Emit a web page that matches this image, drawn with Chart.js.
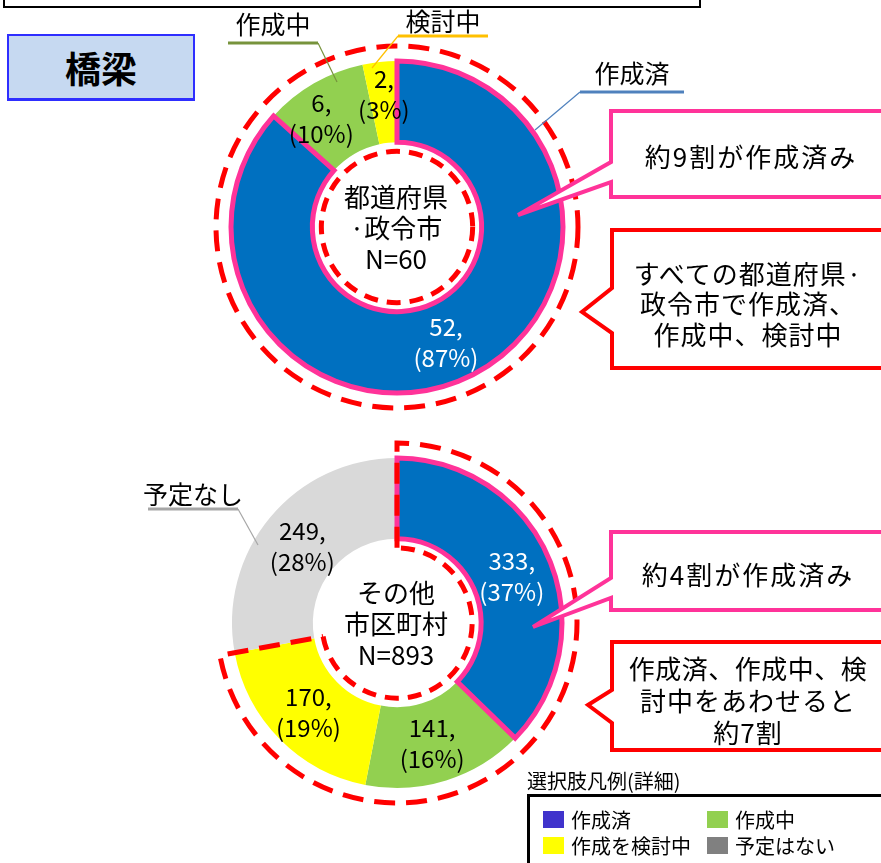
<!DOCTYPE html>
<html>
<head>
<meta charset="utf-8">
<script src="https://cdn.jsdelivr.net/npm/chart.js@4.4.1/dist/chart.umd.min.js"></script>
<style>
  body { margin: 0; background: #fff; font-family: "Noto Sans CJK JP", sans-serif; }
  #page { position: relative; width: 881px; height: 863px; overflow: hidden; }
  canvas { position: absolute; left: 0; top: 0; }
  .topbox { position: absolute; left: 3px; top: -40px; width: 694px; height: 44px; border: 2px solid #000; }
  .title { position: absolute; left: 7px; top: 34px; width: 184px; height: 62px; background: #C6D9F1;
           border: 2px solid #2E2EFF; border-bottom-width: 3px; font-size: 36px; font-weight: bold;
           display: flex; align-items: center; justify-content: center; }
  .legend-title { position: absolute; left: 527px; top: 769px; font-size: 20px; line-height: 24px; }
  .legend { position: absolute; left: 527px; top: 794px; width: 400px; height: 100px; border: 3px solid #000; }
  .item { position: absolute; font-size: 20px; line-height: 24px; }
  .item i { position: absolute; left: -28px; top: 3px; width: 21px; height: 17px; }
  svg { position: absolute; left: 0; top: 0; }
</style>
</head>
<body>
<div id="page">
  <div class="topbox"></div>
  <div class="title">橋梁</div>
  <canvas id="chartPref" width="881" height="863"></canvas>
  <canvas id="chartMuni" width="881" height="863"></canvas>

  <svg width="881" height="863">
    <g font-family="Noto Sans CJK JP" font-size="26" letter-spacing="1" text-anchor="middle" dominant-baseline="central" fill="#000">
      <path d="M611,111 H895 V197 H611 V182 L518,215 L611,162 Z" fill="#fff" stroke="#FF3399" stroke-width="4"/>
      <text x="751" y="155" letter-spacing="2">約9割が作成済み</text>

      <path d="M612,230 H895 V368 H612 V333 L582,312 L612,288 Z" fill="#fff" stroke="#FF0000" stroke-width="4"/>
      <text x="748" y="272">すべての都道府県·</text>
      <text x="748" y="302">政令市で作成済、</text>
      <text x="748" y="333">作成中、検討中</text>

      <path d="M611,532 H895 V610 H611 V598 L533,627 L611,578 Z" fill="#fff" stroke="#FF3399" stroke-width="4"/>
      <text x="748" y="573" letter-spacing="2">約4割が作成済み</text>

      <path d="M612,642 H895 V750 H612 V723 L588,705 L612,690 Z" fill="#fff" stroke="#FF0000" stroke-width="4"/>
      <text x="748" y="667" letter-spacing="0.5">作成済、作成中、検</text>
      <text x="748" y="699">討中をあわせると</text>
      <text x="748" y="731">約7割</text>
    </g>
  </svg>

  <div class="legend-title">選択肢凡例(詳細)</div>
  <div class="legend">
    <div class="item" style="left:41px;top:11px"><i style="background:#4033CC"></i>作成済</div>
    <div class="item" style="left:205px;top:11px"><i style="background:#92D050"></i>作成中</div>
    <div class="item" style="left:41px;top:37px"><i style="background:#FFFF00"></i>作成を検討中</div>
    <div class="item" style="left:205px;top:37px"><i style="background:#808080"></i>予定はない</div>
  </div>
</div>

<script>
// 都道府県・政令市
const prefLabels = ['作成済', '作成中', '検討中'];
const prefValues = [52, 6, 2];
const prefColors = ['#0070C0', '#92D050', '#FFFF00'];
const prefCenter = ['都道府県', '·政令市'];

// その他市区町村
const muniLabels = ['作成済', '作成中', '検討中', '予定なし'];
const muniValues = [333, 141, 170, 249];
const muniColors = ['#0070C0', '#92D050', '#FFFF00', '#D9D9D9'];
const muniCenter = ['その他', '市区町村'];

const FONT = '"Noto Sans CJK JP", sans-serif';

// リング装飾（ピンク枠・赤破線・ラベル）
const decorPlugin = {
    id: 'decor',
    afterDatasetsDraw(chart, args, opts) {
        const ctx = chart.ctx;
        const meta = chart.getDatasetMeta(0);
        const arcs = meta.data;
        const values = chart.data.datasets[0].data;
        const total = values.reduce((a, b) => a + b, 0);
        const first = arcs[0];
        const cx = first.x, cy = first.y;
        const rOut = first.outerRadius, rIn = first.innerRadius;

        ctx.save();

        // 作成済をピンクで囲む
        ctx.beginPath();
        ctx.arc(cx, cy, rOut, first.startAngle, first.endAngle);
        ctx.arc(cx, cy, rIn, first.endAngle, first.startAngle, true);
        ctx.closePath();
        ctx.lineWidth = 5;
        ctx.strokeStyle = '#FF3399';
        ctx.stroke();

        // 赤い破線
        const dOut = rOut + 15, dIn = rIn - 9;
        ctx.strokeStyle = '#FF0000';
        ctx.lineWidth = 5;
        if (opts.dashTo == null) {
            ctx.setLineDash([21, 11]);
            ctx.beginPath();
            ctx.arc(cx, cy, dOut, 0, Math.PI * 2);
            ctx.stroke();
            ctx.setLineDash([14, 9]);
            ctx.beginPath();
            ctx.arc(cx, cy, dIn, 0, Math.PI * 2);
            ctx.stroke();
        } else {
            const a0 = first.startAngle;
            const a1 = arcs[opts.dashTo].endAngle;
            ctx.setLineDash([21, 11]);
            ctx.beginPath();
            ctx.moveTo(cx + dIn * Math.cos(a0), cy + dIn * Math.sin(a0));
            ctx.arc(cx, cy, dOut, a0, a1);
            ctx.lineTo(cx + dIn * Math.cos(a1), cy + dIn * Math.sin(a1));
            ctx.stroke();
            ctx.setLineDash([14, 9]);
            ctx.beginPath();
            ctx.arc(cx, cy, dIn, a1, a0, true);
            ctx.stroke();
        }
        ctx.setLineDash([]);

        // 値ラベル
        ctx.textAlign = 'center';
        ctx.textBaseline = 'middle';
        ctx.font = '24px ' + FONT;
        arcs.forEach((arc, i) => {
            const p = arc.tooltipPosition(true);
            const off = (opts.labelShift && opts.labelShift[i]) || [0, 0];
            const pct = Math.round(values[i] / total * 100);
            ctx.fillStyle = i === 0 ? '#FFFFFF' : '#000000';
            ctx.fillText(values[i] + ',', p.x + off[0], p.y + off[1] - 15);
            ctx.fillText('(' + pct + '%)', p.x + off[0], p.y + off[1] + 16);
        });

        // 中央テキスト
        ctx.fillStyle = '#000';
        ctx.font = '26px ' + FONT;
        const lines = opts.center.concat(['N=' + total]);
        lines.forEach((t, k) => ctx.fillText(t, cx - 1, cy + 1 + (k - 1) * 31));

        // 引き出し線ラベル
        (opts.callouts || []).forEach(c => {
            ctx.strokeStyle = c.color;
            ctx.lineWidth = 3;
            ctx.beginPath();
            ctx.moveTo(c.x1, c.y);
            ctx.lineTo(c.x2, c.y);
            ctx.stroke();
            ctx.lineWidth = 1.2;
            ctx.beginPath();
            ctx.moveTo(c.lx, c.y);
            ctx.lineTo(c.ex, c.ey);
            ctx.stroke();
            ctx.fillStyle = '#000';
            ctx.font = '25px ' + FONT;
            ctx.fillText(chart.data.labels[c.index], (c.x1 + c.x2) / 2, c.ty);
        });

        ctx.restore();
    }
};

function makeDonut(id, labels, values, colors, padding, decor) {
    return new Chart(document.getElementById(id), {
        type: 'doughnut',
        data: {
            labels: labels,
            datasets: [{
                data: values,
                backgroundColor: colors,
                borderWidth: 0
            }]
        },
        options: {
            responsive: false,
            animation: false,
            cutout: '51%',
            layout: { padding: padding },
            plugins: {
                legend: { display: false },
                tooltip: { enabled: false },
                decor: decor
            }
        },
        plugins: [decorPlugin]
    });
}

makeDonut('chartPref', prefLabels, prefValues, prefColors,
    { left: 231, top: 61, right: 318, bottom: 470 },
    {
        center: prefCenter,
        labelShift: [[-2, 0], [-13, -1], [0, -8]],
        callouts: [
            { index: 1, x1: 228, x2: 318, y: 43, ty: 24, lx: 318, ex: 337, ey: 82, color: '#77933C' },
            { index: 2, x1: 398, x2: 488, y: 36, ty: 21, lx: 398, ex: 372, ey: 68, color: '#FFC000' },
            { index: 0, x1: 580, x2: 684, y: 92, ty: 73, lx: 580, ex: 535, ey: 130, color: '#4F81BD' }
        ]
    });

makeDonut('chartMuni', muniLabels, muniValues, muniColors,
    { left: 232, top: 458, right: 319, bottom: 75 },
    {
        center: muniCenter,
        dashTo: 2,
        labelShift: [[0, 1], [-2, 1], [0, 1], [1, 3]],
        callouts: [
            { index: 3, x1: 148, x2: 238, y: 509, ty: 494, lx: 238, ex: 258, ey: 545, color: '#A6A6A6' }
        ]
    });
</script>
</body>
</html>
